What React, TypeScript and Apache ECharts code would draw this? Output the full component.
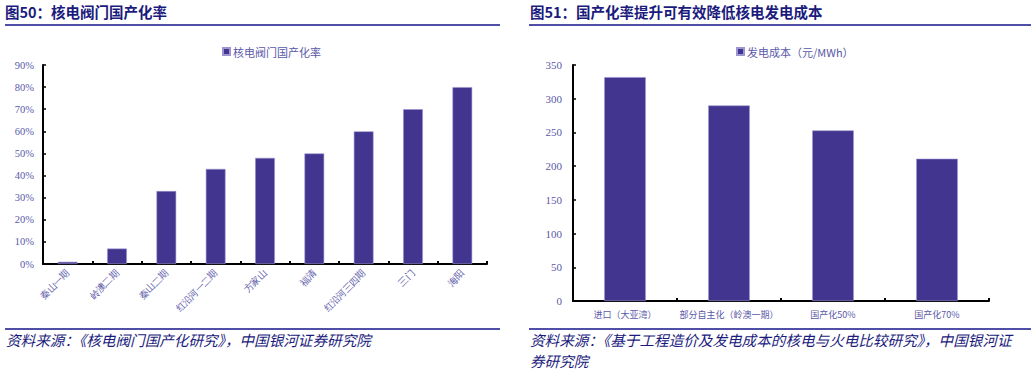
import React, { useEffect, useRef } from "react";
import * as echarts from "echarts";

const leftTitle = "图50：核电阀门国产化率";
const rightTitle = "图51：国产化率提升可有效降低核电发电成本";
const leftSource = "资料来源：《核电阀门国产化研究》，中国银河证券研究院";
const rightSource1 = "资料来源：《基于工程造价及发电成本的核电与火电比较研究》，中国银河证";
const rightSource2 = "券研究院";

const leftSeriesName = "核电阀门国产化率";
const leftCategories = ["秦山一期", "岭澳二期", "秦山二期", "红沿河一二期", "方家山", "福清", "红沿河三四期", "三门", "海阳"];
const leftValues = [1, 7, 33, 43, 48, 50, 60, 70, 80];

const rightSeriesName = "发电成本（元/MWh）";
const rightCategories = ["进口（大亚湾）", "部分自主化（岭澳一期）", "国产化50%", "国产化70%"];
const rightValues = [332, 290, 253, 211];

const BAR = "#41358F";
const NAVY = "#1B1B7D";
const LABEL = "#5A58A8";
const SERIF = "'Liberation Serif', 'DejaVu Serif', serif";

export default function App() {
  const ref = useRef<HTMLDivElement>(null);
  useEffect(() => {
    if (!ref.current) return;
    const chart = echarts.init(ref.current, undefined, { renderer: "svg" });
    const axisLine = { show: true, lineStyle: { color: "#000", width: 2 } };
    const legendText = { color: LABEL, fontSize: 11, fontFamily: "'Noto Sans CJK SC'", padding: [0, 0, 0, -2] };
    chart.setOption({
      animation: false,
      backgroundColor: "#fff",
      legend: [
        {
          data: [leftSeriesName],
          left: 217,
          top: 41,
          icon: "rect",
          itemWidth: 7,
          itemHeight: 7,
          itemGap: 4,
          textStyle: legendText,
        },
        {
          data: [rightSeriesName],
          left: 731,
          top: 41,
          icon: "rect",
          itemWidth: 7,
          itemHeight: 7,
          itemGap: 4,
          textStyle: legendText,
        },
      ],
      grid: [
        { left: 43, right: 544, top: 65, bottom: 107 },
        { left: 573, right: 42, top: 65, bottom: 70 },
      ],
      xAxis: [
        {
          type: "category",
          gridIndex: 0,
          data: leftCategories,
          axisLine,
          axisTick: { show: true, inside: true, length: 3, lineStyle: { color: "#000", width: 2 } },
          axisLabel: {
            rotate: 45,
            color: LABEL,
            fontSize: 9.5,
            fontFamily: SERIF,
            margin: 8,
            interval: 0,
          },
        },
        {
          type: "category",
          gridIndex: 1,
          data: rightCategories,
          axisLine,
          axisTick: { show: true, inside: true, length: 3, lineStyle: { color: "#000", width: 2 } },
          axisLabel: {
            color: LABEL,
            fontSize: 9,
            fontFamily: "'Noto Sans CJK SC'",
            margin: 9,
            interval: 0,
          },
        },
      ],
      yAxis: [
        {
          type: "value",
          gridIndex: 0,
          min: 0,
          max: 90,
          interval: 10,
          axisLine,
          axisTick: { show: true, inside: true, length: 3, lineStyle: { color: "#000", width: 1.5 } },
          splitLine: { show: false },
          axisLabel: {
            formatter: "{value}%",
            color: LABEL,
            fontSize: 10.5,
            fontFamily: SERIF,
            margin: 9,
          },
        },
        {
          type: "value",
          gridIndex: 1,
          min: 0,
          max: 350,
          interval: 50,
          axisLine,
          axisTick: { show: true, inside: true, length: 3, lineStyle: { color: "#000", width: 1.5 } },
          splitLine: { show: false },
          axisLabel: {
            color: LABEL,
            fontSize: 11,
            fontFamily: SERIF,
            margin: 11,
          },
        },
      ],
      series: [
        {
          name: leftSeriesName,
          type: "bar",
          xAxisIndex: 0,
          yAxisIndex: 0,
          data: leftValues,
          barWidth: "40%",
          itemStyle: { color: BAR, borderColor: "#9C95D0", borderWidth: 0.6 },
        },
        {
          name: rightSeriesName,
          type: "bar",
          xAxisIndex: 1,
          yAxisIndex: 1,
          data: rightValues,
          barWidth: "40%",
          itemStyle: { color: BAR, borderColor: "#9C95D0", borderWidth: 0.6 },
        },
      ],
      graphic: [
        {
          type: "text",
          left: 5,
          top: 4,
          style: { text: leftTitle, fill: NAVY, font: "bold 14.5px 'Noto Sans CJK SC'" },
        },
        {
          type: "text",
          left: 530,
          top: 4,
          style: { text: rightTitle, fill: NAVY, font: "bold 14.5px 'Noto Sans CJK SC'" },
        },
        { type: "line", shape: { x1: 5, y1: 25, x2: 500, y2: 25 }, style: { stroke: "#14148A", lineWidth: 1.5 } },
        { type: "line", shape: { x1: 529, y1: 25, x2: 1031, y2: 25 }, style: { stroke: "#14148A", lineWidth: 1.5 } },
        { type: "line", shape: { x1: 5, y1: 329, x2: 500, y2: 329 }, style: { stroke: "#14148A", lineWidth: 1.5 } },
        { type: "line", shape: { x1: 529, y1: 329, x2: 1031, y2: 329 }, style: { stroke: "#14148A", lineWidth: 1.5 } },
        {
          type: "text",
          left: 6,
          top: 332,
          style: { text: leftSource, fill: NAVY, font: "italic 14.6px 'Noto Sans CJK SC'" },
        },
        {
          type: "text",
          left: 530,
          top: 332,
          style: { text: rightSource1, fill: NAVY, font: "italic 14.6px 'Noto Sans CJK SC'" },
        },
        {
          type: "text",
          left: 530,
          top: 353,
          style: { text: rightSource2, fill: NAVY, font: "italic 14.6px 'Noto Sans CJK SC'" },
        },
      ],
    });
    return () => chart.dispose();
  }, []);
  return (
    <div
      ref={ref}
      style={{ position: "fixed", left: 0, top: 0, width: 1031, height: 371, background: "#fff" }}
    />
  );
}
